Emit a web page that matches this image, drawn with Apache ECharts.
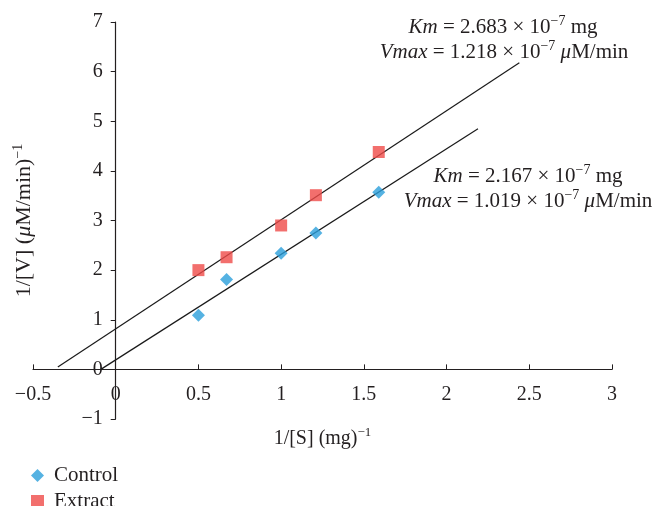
<!DOCTYPE html>
<html>
<head>
<meta charset="utf-8">
<script src="https://cdn.jsdelivr.net/npm/echarts@6/dist/echarts.min.js"></script>
<style>
  html, body { margin: 0; padding: 0; background: #fff; }
  #chart { width: 656px; height: 506px; }
</style>
</head>
<body>
<div id="chart"></div>
<script>
// values
var xVals = [0.5, 0.67, 1, 1.21, 1.59];
var controlY = [1.09, 1.81, 2.34, 2.75, 3.57];
var extractY = [2.0, 2.26, 2.9, 3.51, 4.38];
// trendline end points
var controlFitX = [-0.09, 2.19];
var controlFitY = [0.0, 4.85];
var extractFitX = [-0.35, 2.44];
var extractFitY = [0.05, 6.18];
var xTicks = [-0.5, 0, 0.5, 1, 1.5, 2, 2.5, 3];
var yTicks = [-1, 0, 1, 2, 3, 4, 5, 6, 7];

var FONT = 'Liberation Serif';
var TXT = '#231f20';
var W = 656, H = 506;
var G = { left: 33, right: 44, top: 22, bottom: 87 };

var xMin = xTicks[0], xMax = xTicks[xTicks.length - 1];
var yMin = yTicks[0], yMax = yTicks[yTicks.length - 1];
// move axes (line, ticks and labels) onto the zero crossing
var gridW = W - G.left - G.right;
var gridH = H - G.top - G.bottom;
var yAxisOffset = -gridW * (0 - xMin) / (xMax - xMin);
var xAxisOffset = -gridH * (0 - yMin) / (yMax - yMin);

function pairs(xs, ys) {
  return xs.map(function (x, i) { return [x, ys[i]]; });
}
function fmt(v) {
  return String(v).replace('-', '\u2212');
}

function makeRich(size) {
  return {
    i: { fontStyle: 'italic', fontFamily: FONT, fontSize: size, color: TXT },
    s: { fontFamily: FONT, fontSize: Math.round(size * 0.65), color: TXT, padding: [0, 0, 12, 0] }
  };
}

function note(x, y, str) {
  return {
    type: 'text',
    x: x,
    y: y,
    style: {
      text: str,
      rich: makeRich(21),
      fontFamily: FONT,
      fontSize: 21,
      fill: TXT,
      align: 'center',
      verticalAlign: 'middle'
    }
  };
}

function legendBox(name, top) {
  return {
    data: [name],
    orient: 'vertical',
    left: 31,
    top: top,
    padding: 0,
    itemWidth: 13,
    itemHeight: 13,
    textStyle: { fontFamily: FONT, fontSize: 21, color: TXT, padding: [0, 0, 0, 5] }
  };
}

var chart = echarts.init(document.getElementById('chart'));
chart.setOption({
  animation: false,
  backgroundColor: '#fff',
  grid: {
    left: G.left,
    right: G.right,
    top: G.top,
    bottom: G.bottom,
    containLabel: false,
    outerBoundsMode: 'none'
  },
  legend: [legendBox('Control', 465), legendBox('Extract', 491)],
  xAxis: {
    type: 'value',
    min: xMin,
    max: xMax,
    interval: 0.5,
    offset: xAxisOffset,
    name: '1/[S] (mg){s|\u22121}',
    nameLocation: 'middle',
    nameGap: 57,
    nameTextStyle: { fontFamily: FONT, fontSize: 20, color: TXT, rich: makeRich(20) },
    axisLine: { onZero: false, lineStyle: { color: '#231f20', width: 1.2 } },
    axisTick: { show: true, inside: true, length: 5, lineStyle: { color: '#231f20' } },
    axisLabel: {
      margin: 15,
      fontFamily: FONT,
      fontSize: 20,
      color: TXT,
      formatter: function (v) { return fmt(v); }
    },
    splitLine: { show: false }
  },
  yAxis: {
    type: 'value',
    min: yMin,
    max: yMax,
    interval: 1,
    offset: yAxisOffset,
    name: '1/[V] ({i|\u03bc}M/min){s|\u22121}',
    nameLocation: 'middle',
    nameGap: 78,
    nameTextStyle: { fontFamily: FONT, fontSize: 22, color: TXT, rich: makeRich(22) },
    axisLine: { onZero: false, lineStyle: { color: '#231f20', width: 1.2 } },
    axisTick: { show: true, inside: false, length: 5, lineStyle: { color: '#231f20' } },
    axisLabel: {
      margin: 13,
      fontFamily: FONT,
      fontSize: 20,
      color: TXT,
      formatter: function (v) { return fmt(v); }
    },
    splitLine: { show: false }
  },
  series: [
    {
      name: 'Extract fit',
      type: 'line',
      data: pairs(extractFitX, extractFitY),
      showSymbol: false,
      lineStyle: { color: '#1a1a1a', width: 1.2 },
      z: 1
    },
    {
      name: 'Control fit',
      type: 'line',
      data: pairs(controlFitX, controlFitY),
      showSymbol: false,
      lineStyle: { color: '#1a1a1a', width: 1.2 },
      z: 1
    },
    {
      name: 'Control',
      type: 'scatter',
      symbol: 'diamond',
      symbolSize: 13,
      itemStyle: { color: '#2a9fdb' },
      data: pairs(xVals, controlY),
      z: 3
    },
    {
      name: 'Extract',
      type: 'scatter',
      symbol: 'rect',
      symbolSize: 12,
      itemStyle: { color: '#ef4b48' },
      data: pairs(xVals, extractY),
      z: 2
    }
  ],
  graphic: [
    note(503, 27, '{i|Km} = 2.683 \u00d7 10{s|\u22127} mg'),
    note(504, 52, '{i|Vmax} = 1.218 \u00d7 10{s|\u22127} {i|\u03bc}M/min'),
    note(528, 176, '{i|Km} = 2.167 \u00d7 10{s|\u22127} mg'),
    note(528, 201, '{i|Vmax} = 1.019 \u00d7 10{s|\u22127} {i|\u03bc}M/min')
  ]
});
</script>
</body>
</html>
